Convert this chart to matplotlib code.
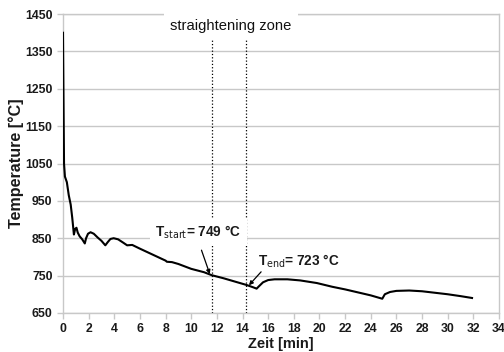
import matplotlib
matplotlib.use("Agg")
import matplotlib.pyplot as plt

time_min = [0.0, 0.08, 0.15, 0.3, 0.45, 0.6, 0.72, 0.85, 0.95, 1.05, 1.15, 1.3, 1.5, 1.7,
            1.8, 1.95, 2.15, 2.4, 2.7, 3.0, 3.3, 3.5, 3.7, 3.95, 4.3, 4.7, 5.0, 5.4, 6.0,
            7.0, 8.0, 8.1, 8.5, 9.0, 10.0, 11.0, 11.6, 12.5, 13.5, 14.3, 14.8, 15.1, 15.3,
            15.6, 16.0, 16.5, 17.5, 18.5, 19.8, 21.0, 22.0, 23.0, 24.0, 24.9, 25.1, 25.5,
            26.0, 27.0, 28.0, 29.0, 30.0, 31.0, 31.9]
temp_c = [1400, 1050, 1015, 1000, 965, 940, 905, 860, 875, 878, 865, 855, 847, 836,
          850, 862, 866, 862, 852, 843, 831, 840, 848, 850, 847, 838, 831, 832, 822,
          806, 790, 787, 786, 781, 768, 759, 751, 743, 733, 725, 719, 715, 722,
          732, 738, 740, 740, 737, 730, 720, 713, 705, 697, 688, 700, 706,
          709, 710, 708, 704, 700, 695, 690]

zone_start = 11.6
zone_end = 14.3
x_ticks = list(range(0, 35, 2))
y_ticks = list(range(650, 1451, 100))

plt.rcParams['font.family'] = ['Liberation Sans', 'DejaVu Sans']

fig = plt.figure(figsize=(5.04, 3.52), dpi=100)
ax = fig.add_axes([0.125, 0.111, 0.865, 0.849])

grid_col = '#c8c8c8'
ax.set_xlim(0, 34)
ax.set_ylim(650, 1450)
ax.set_xticks(x_ticks)
ax.set_yticks(y_ticks)
ax.yaxis.grid(True, color=grid_col, linewidth=1.0, zorder=0)
for s in ax.spines.values():
    s.set_color(grid_col)
    s.set_linewidth(1.0)
ax.tick_params(axis='both', colors=grid_col, length=4, width=1.0, labelcolor='#1a1a1a',
               labelsize=8.8)
for lab in ax.get_xticklabels() + ax.get_yticklabels():
    lab.set_fontweight('bold')

ax.plot(time_min, temp_c, color='black', linewidth=1.5, zorder=4)

for xv in (zone_start, zone_end):
    ax.plot([xv, xv], [650, 1390], color='black', linestyle=':', linewidth=0.9, zorder=3)

ax.text(13.1, 1418, 'straightening zone', ha='center', va='center', fontsize=10.6,
        color='#111111', zorder=5,
        bbox=dict(boxstyle='square,pad=0.4', facecolor='white', edgecolor='none'))

ax.text(7.2, 867, r'T$_{\mathrm{start}}$= 749 °C', ha='left', va='center', fontsize=9.8,
        fontweight='bold', color='#1a1a1a', zorder=5,
        bbox=dict(boxstyle='square,pad=0.4', facecolor='white', edgecolor='none'))
ax.annotate('', xy=(11.45, 754), xytext=(10.8, 818),
            arrowprops=dict(arrowstyle='-|>', color='black', linewidth=0.9,
                            mutation_scale=6, shrinkA=0, shrinkB=0), zorder=5)

ax.text(15.2, 787, r'T$_{\mathrm{end}}$= 723 °C', ha='left', va='center', fontsize=9.8,
        fontweight='bold', color='#1a1a1a', zorder=5,
        bbox=dict(boxstyle='square,pad=0.2', facecolor='white', edgecolor='none'))
ax.annotate('', xy=(14.5, 724), xytext=(15.45, 760),
            arrowprops=dict(arrowstyle='-|>', color='black', linewidth=0.9,
                            mutation_scale=6, shrinkA=0, shrinkB=0), zorder=5)

ax.set_xlabel('Zeit [min]', fontsize=10.5, fontweight='bold', color='#1a1a1a', labelpad=1)
ax.set_ylabel('Temperature [°C]', fontsize=11.6, fontweight='bold', color='#1a1a1a',
              labelpad=1)

fig.savefig('out.png', dpi=100, facecolor='white')
